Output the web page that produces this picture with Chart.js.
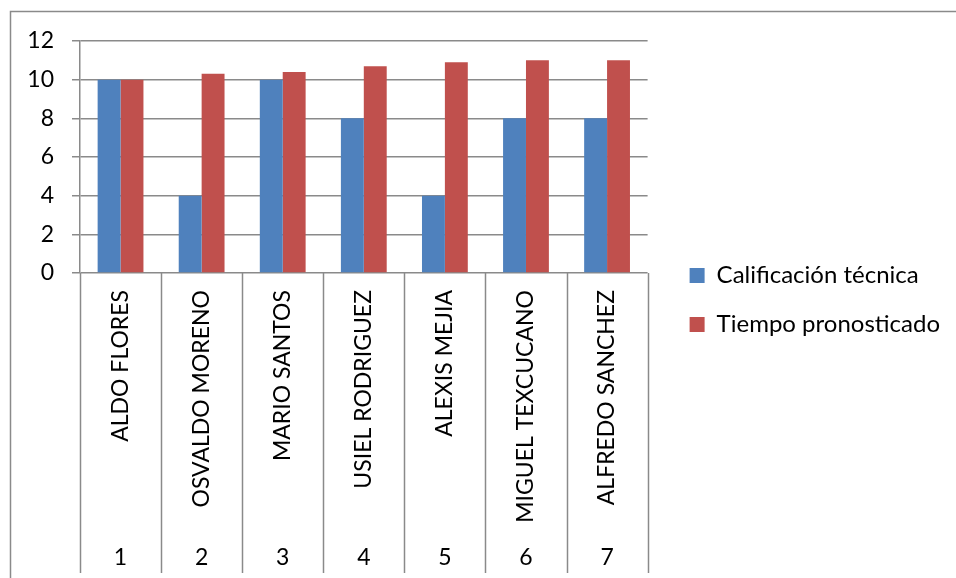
<!DOCTYPE html>
<html>
<head>
<meta charset="utf-8">
<script src="https://cdn.jsdelivr.net/npm/chart.js@4.4.0/dist/chart.umd.min.js"></script>
<style>
  html, body { margin: 0; padding: 0; background: #fff; }
  #wrap { width: 956px; height: 578px; position: relative; }
</style>
</head>
<body>
<div id="wrap"><canvas id="barChart"></canvas></div>
<script>
var nombres = ["ALDO FLORES", "OSVALDO MORENO", "MARIO SANTOS", "USIEL RODRIGUEZ",
  "ALEXIS MEJIA", "MIGUEL TEXCUCANO", "ALFREDO SANCHEZ"];
var numeros = ["1", "2", "3", "4", "5", "6", "7"];
var calificacion = [10, 4, 10, 8, 4, 8, 8];
var tiempo = [10, 10.3, 10.4, 10.7, 10.9, 11, 11];

var gris = "#8a8a8a";
var fuente = "Lato, 'Noto Sans', sans-serif";

// marco del grafico y lineas de separacion de categorias bajo el eje
var marcos = {
  id: "marcos",
  afterDraw: function (chart) {
    var ctx = chart.ctx;
    var xs = chart.scales.x;
    var area = chart.chartArea;
    ctx.save();
    ctx.strokeStyle = gris;
    ctx.lineWidth = 1.5;
    ctx.beginPath();
    ctx.moveTo(10.5, chart.height);
    ctx.lineTo(10.5, 11.5);
    ctx.lineTo(chart.width, 11.5);
    ctx.stroke();
    var paso = xs.width / nombres.length;
    ctx.beginPath();
    for (var i = 0; i <= nombres.length; i++) {
      var x = Math.round(xs.left + i * paso) + 0.5;
      ctx.moveTo(x, area.bottom);
      ctx.lineTo(x, chart.height - 5);
    }
    ctx.stroke();
    ctx.restore();
  },
};

// ejes vacios que solo reservan espacio
function hueco(pos, tam) {
  return {
    position: pos,
    display: true,
    grid: { display: false, drawTicks: false },
    border: { display: false },
    ticks: { display: false },
    afterFit: function (s) {
      if (pos === "top") s.height = tam; else s.width = tam;
    },
  };
}

var ctx = document.getElementById("barChart").getContext("2d");
var barChart = new Chart(ctx, {
  type: "bar",
  data: {
    labels: nombres,
    datasets: [
      {
        label: "Calificación técnica",
        data: calificacion,
        backgroundColor: "#4f81bd",
        xAxisID: "x",
        yAxisID: "y",
      },
      {
        label: "Tiempo pronosticado",
        data: tiempo,
        backgroundColor: "#c0504d",
        xAxisID: "x",
        yAxisID: "y",
      },
    ],
  },
  options: {
    responsive: true,
    maintainAspectRatio: false,
    animation: false,
    datasets: {
      bar: { categoryPercentage: 0.565, barPercentage: 1 },
    },
    layout: { padding: { top: 27, bottom: 5, left: 0, right: 6 } },
    scales: {
      x: {
        position: "bottom",
        grid: { display: false, drawTicks: false },
        border: { display: false },
        ticks: {
          color: "#000",
          font: { family: fuente, size: 23 },
          minRotation: 90,
          maxRotation: 90,
          autoSkip: false,
          padding: 17,
        },
        afterFit: function (s) { s.height = 250; },
      },
      x2: {
        type: "category",
        labels: numeros,
        position: "bottom",
        offset: true,
        grid: { display: false, drawTicks: false },
        border: { display: false },
        ticks: {
          color: "#000",
          font: { family: fuente, size: 23 },
          padding: 21,
        },
        afterFit: function (s) { s.height = 50; },
      },
      y: {
        min: 0,
        max: 12,
        ticks: {
          stepSize: 2,
          color: "#000",
          font: { family: fuente, size: 23 },
          padding: 18,
        },
        grid: { color: gris, lineWidth: 1.5, tickLength: 8 },
        border: { color: gris, width: 1.5 },
        afterFit: function (s) { s.width = 80; },
      },
      arriba: hueco("top", 14),
      derecha: hueco("right", 17),
    },
    plugins: {
      legend: {
        position: "right",
        maxWidth: 320,
        labels: {
          boxWidth: 15,
          boxHeight: 15,
          padding: 25,
          color: "#000",
          font: { family: fuente, size: 24 },
        },
      },
      tooltip: { enabled: false },
    },
  },
  plugins: [marcos],
});
</script>
</body>
</html>
